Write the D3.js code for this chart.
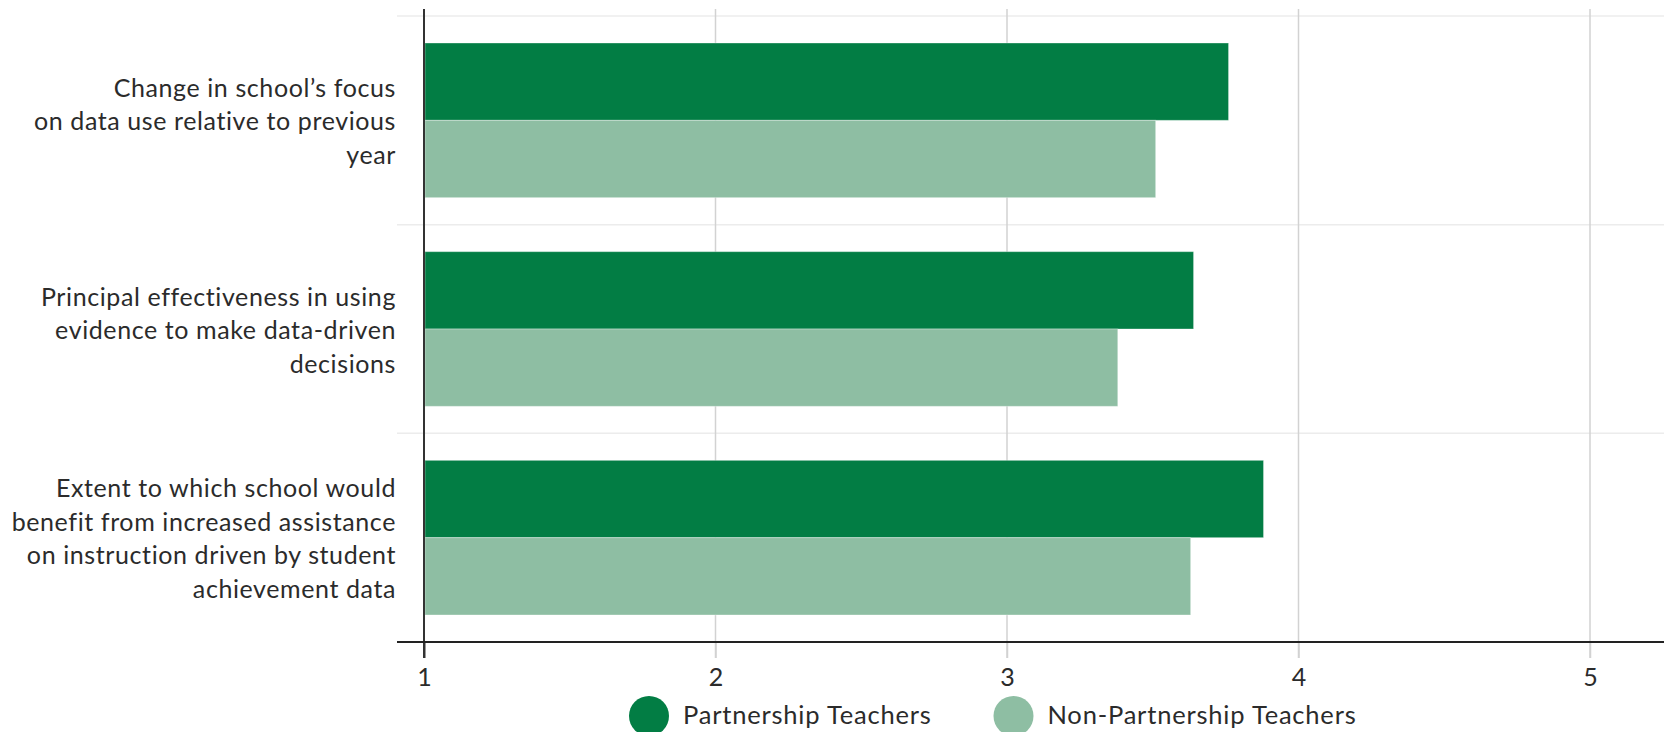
<!DOCTYPE html>
<html>
<head>
<meta charset="utf-8">
<script src="https://cdn.jsdelivr.net/npm/d3@7"></script>
<style>
  html, body { margin: 0; padding: 0; background: #fff; }
  svg { display: block; font-family: Lato, "Open Sans", sans-serif; }
</style>
</head>
<body>
<svg id="chart" width="1664" height="732"></svg>
<script>
// Survey items (each label split into its display lines)
const categories = [
  ["Change in school\u2019s focus", "on data use relative to previous", "year"],
  ["Principal effectiveness in using", "evidence to make data-driven", "decisions"],
  ["Extent to which school would", "benefit from increased assistance", "on instruction driven by student", "achievement data"]
];
const seriesNames = ["Partnership Teachers", "Non-Partnership Teachers"];
const partnershipValues = [3.76, 3.64, 3.88];
const nonPartnershipValues = [3.51, 3.38, 3.63];
const tickValues = [1, 2, 3, 4, 5];
const colors = ["#027D44", "#8EBEA3"];

(function draw() {
  const W = 1664;
  const plotLeft = 424, plotRight = 1590, plotTop = 16, plotBottom = 642;
  const svg = d3.select("#chart");

  const catKeys = categories.map((c, i) => i);
  const x = d3.scaleLinear().domain([1, 5]).range([plotLeft, plotRight]);
  const y = d3.scaleBand().domain(catKeys).range([plotTop, plotBottom]).padding(0);
  const groupPad = 27;
  const ySub = d3.scaleBand().domain([0, 1]).range([groupPad, y.bandwidth() - groupPad]).padding(0);
  const color = d3.scaleOrdinal().domain([0, 1]).range(colors);

  // band separators
  svg.append("g").selectAll("line")
    .data(catKeys)
    .join("line")
    .attr("x1", 397).attr("x2", W)
    .attr("y1", d => y(d)).attr("y2", d => y(d))
    .attr("stroke", "#ececec").attr("stroke-width", 1.5);

  // vertical gridlines
  svg.append("g").selectAll("line")
    .data(tickValues.slice(1))
    .join("line")
    .attr("x1", d => x(d)).attr("x2", d => x(d))
    .attr("y1", 9).attr("y2", plotBottom + 16)
    .attr("stroke", "#d2d2d2").attr("stroke-width", 1.5);

  // bars
  const rows = catKeys.map(i => ({ i, vals: [partnershipValues[i], nonPartnershipValues[i]] }));
  const groups = svg.append("g").selectAll("g")
    .data(rows)
    .join("g")
    .attr("transform", d => `translate(0,${y(d.i)})`);
  groups.selectAll("rect")
    .data(d => d.vals.map((v, s) => ({ v, s })))
    .join("rect")
    .attr("x", x(1) + 1)
    .attr("y", d => ySub(d.s))
    .attr("width", d => x(d.v) - x(1) - 1)
    .attr("height", ySub.bandwidth())
    .attr("fill", d => color(d.s))
    .attr("stroke", "rgba(255,255,255,0.35)")
    .attr("stroke-width", 1);

  // baseline at value 1
  svg.append("line")
    .attr("x1", x(1)).attr("x2", x(1))
    .attr("y1", 9).attr("y2", plotBottom + 16)
    .attr("stroke", "#333").attr("stroke-width", 2);

  // x axis
  const axis = d3.axisBottom(x).tickValues(tickValues).tickFormat(d3.format("d"))
    .tickSize(16).tickPadding(10);
  const gx = svg.append("g").attr("transform", `translate(0,${plotBottom})`).call(axis);
  gx.select(".domain").remove();
  gx.selectAll(".tick line")
    .attr("stroke", d => d === 1 ? "#333" : "#d2d2d2")
    .attr("stroke-width", d => d === 1 ? 2 : 1.5);
  gx.selectAll(".tick text").attr("font-size", 25).attr("fill", "#2b2b2b")
    .attr("font-family", "Lato, 'Open Sans', sans-serif");
  svg.append("line")
    .attr("x1", 397).attr("x2", W)
    .attr("y1", plotBottom).attr("y2", plotBottom)
    .attr("stroke", "#222").attr("stroke-width", 2);

  // category labels
  const lineH = 33.5;
  const labels = svg.append("g").selectAll("text")
    .data(catKeys)
    .join("text")
    .attr("text-anchor", "end")
    .attr("font-size", 25)
    .attr("letter-spacing", "0.6px")
    .attr("fill", "#2b2b2b");
  labels.each(function(i) {
    const lines = categories[i];
    const cy = y(i) + y.bandwidth() / 2 + 10;
    const first = cy - (lines.length - 1) / 2 * lineH;
    d3.select(this).selectAll("tspan")
      .data(lines)
      .join("tspan")
      .attr("x", 396)
      .attr("y", (d, k) => first + k * lineH)
      .text(d => d);
  });

  // legend
  const legendX = [649, 1013.5];
  const legend = svg.append("g").selectAll("g")
    .data(seriesNames)
    .join("g")
    .attr("transform", (d, k) => `translate(${legendX[k]},716)`);
  legend.append("circle").attr("r", 20).attr("fill", (d, k) => color(k));
  legend.append("text")
    .attr("x", 34).attr("y", 8)
    .attr("font-size", 25.5)
    .attr("letter-spacing", "0.8px")
    .attr("fill", "#2b2b2b")
    .text(d => d);
})();
</script>
</body>
</html>
